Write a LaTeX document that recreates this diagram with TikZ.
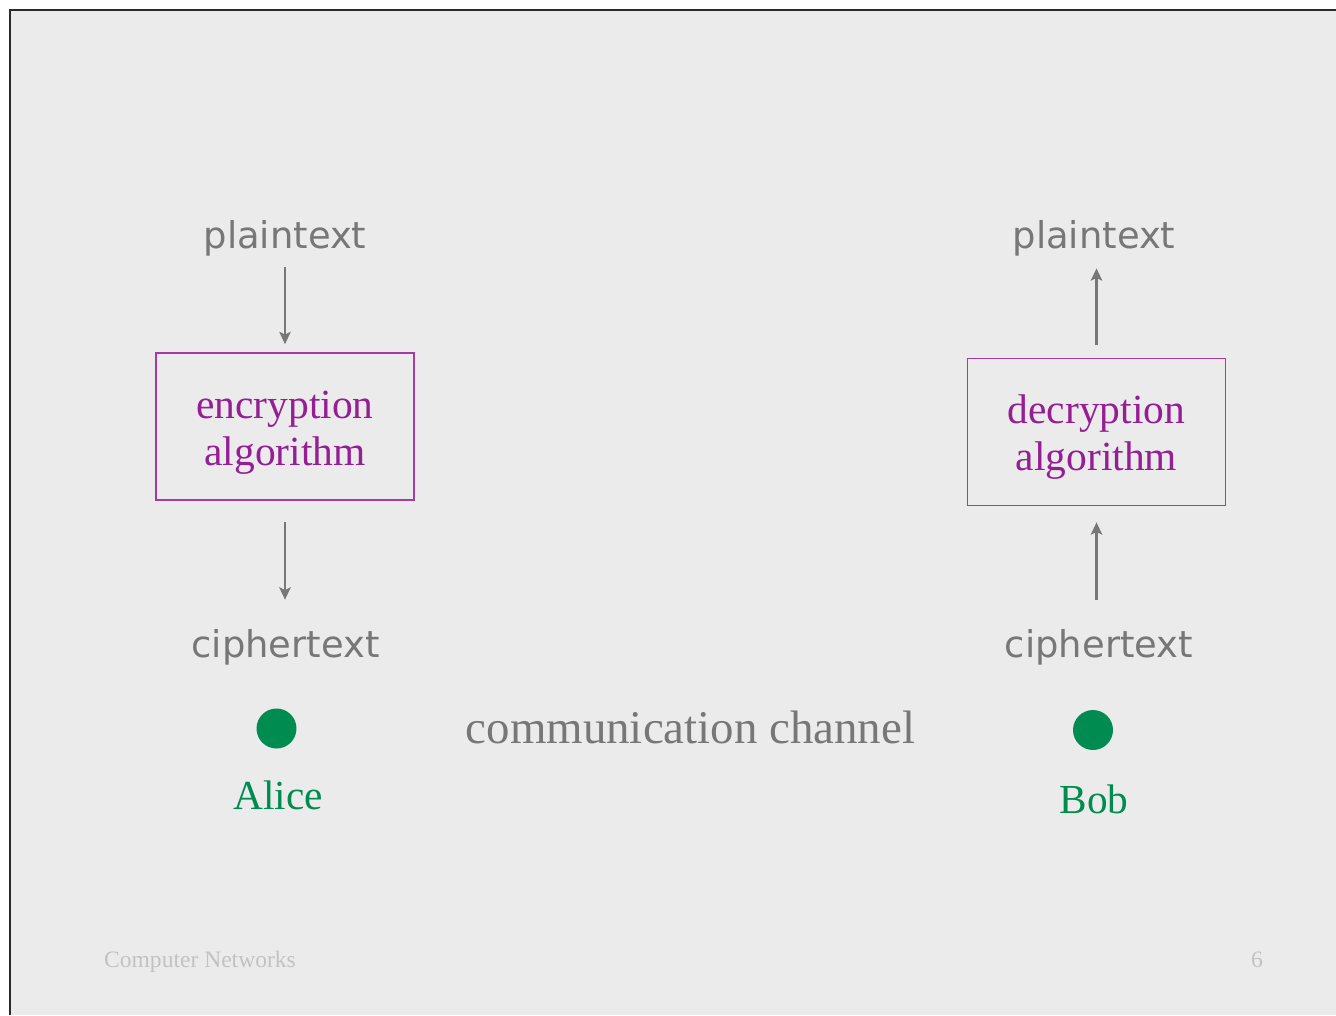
\documentclass[tikz,border=0pt]{standalone}
\usepackage{fontspec}
\setmainfont{Liberation Serif}
\newfontfamily\comic{DejaVu Sans}
\usepackage{tikz}
\usetikzlibrary{arrows.meta, positioning}
\definecolor{slide}{HTML}{EBEBEB}
\definecolor{frame}{HTML}{2A2A2A}
\definecolor{txtgray}{HTML}{777777}
\definecolor{foot}{HTML}{C2C2C2}
\definecolor{purp}{HTML}{951E95}
\definecolor{purpline}{HTML}{A53AA5}
\definecolor{grn}{HTML}{008C50}

\begin{document}
\begin{tikzpicture}[x=0.02cm, y=-0.02cm,
    word/.style={font=\comic\fontsize{21}{25}\selectfont, text=txtgray, inner sep=0pt,
        text height=0.6cm, text depth=0.16cm, anchor=base},
    algo/.style={draw=purpline, line width=1pt, text=purp, align=center, text height=1.72cm,
        font=\fontsize{23.6}{26.7}\selectfont, minimum width=5.16cm, minimum height=2.94cm, inner sep=0pt},
    flow/.style={draw=txtgray, line width=1.2pt, -{Stealth[length=7pt, width=6.5pt, inset=1.5pt]}},
    dot/.style={circle, fill=grn, minimum size=0.8cm, inner sep=0pt},
    who/.style={text=grn, font=\fontsize{23.5}{28}\selectfont, inner sep=0pt, anchor=base}]
        \useasboundingbox (0,0) rectangle (1336,1015);
        % slide background
        \fill[slide] (10,10) rectangle (1336,1015);
        \draw[frame, line width=1.1pt] (10,1015) -- (10,10) -- (1336,10);

        % Alice side
        \node[word] (pA) at (285,248) {plaintext};
        \node[algo] (enc) at (285,426.5) {encryption\\algorithm};
        \node[word] (cA) at (285.5,657) {ciphertext};
        \node[dot] (dA) at (276.5,728.5) {};
        \node[who] (alice) at (278,809) {Alice};

        % Bob side
        \node[word] (pB) at (1094,248) {plaintext};
        \node[algo] (dec) at (1096.5,432) {decryption\\algorithm};
        \node[word] (cB) at (1099,657) {ciphertext};
        \node[dot] (dB) at (1093,730) {};
        \node[who] (bob) at (1094,813) {Bob};

        \node[text=txtgray, font=\fontsize{26.7}{30}\selectfont, inner sep=0pt, anchor=base] (chan) at (690.5,743) {communication channel};

        % arrows
        \draw[flow, shorten <=0.22cm, shorten >=0.16cm] (enc.north |- pA.south) -- (enc.north);
        \draw[flow, shorten <=0.42cm, shorten >=0.54cm] (enc.south) -- (enc.south |- cA.north);
        \draw[flow, shorten <=0.26cm, shorten >=0.24cm] (dec.north) -- (dec.north |- pB.south);
        \draw[flow, shorten <=0.54cm, shorten >=0.32cm] (dec.south |- cB.north) -- (dec.south);

        % footer
        \node[text=foot, font=\fontsize{13.4}{16}\selectfont, inner sep=0pt, anchor=base] (course) at (200,967) {Computer Networks};
        \node[text=foot, font=\fontsize{13.4}{16}\selectfont, inner sep=0pt, anchor=base] (page) at (1257,967) {6};
\end{tikzpicture}
\end{document}
